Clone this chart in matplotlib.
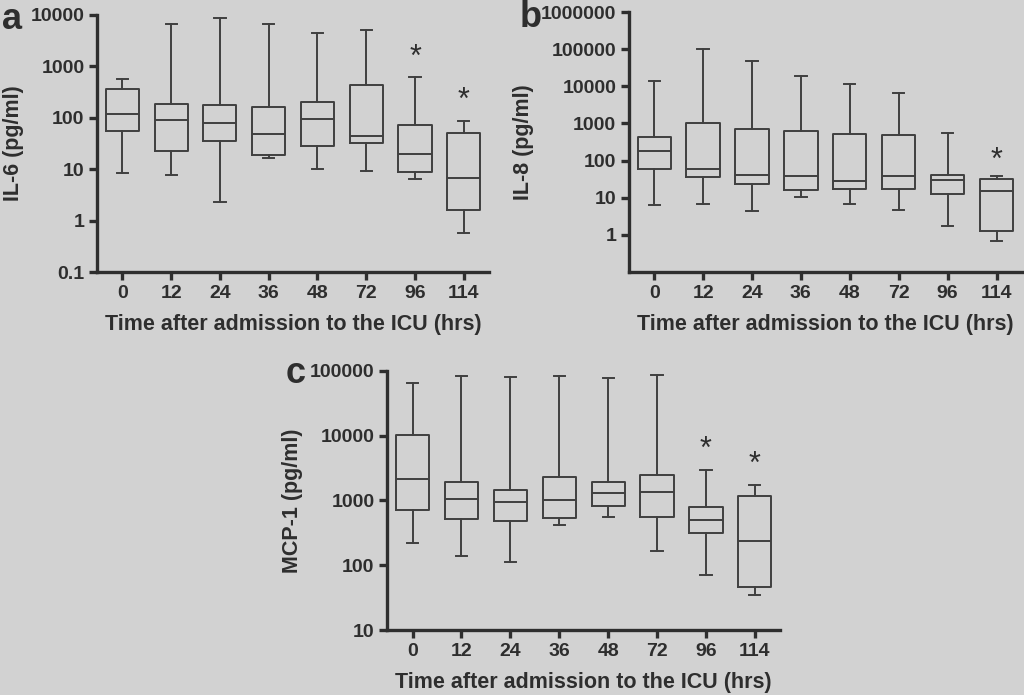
import numpy as np
import matplotlib
matplotlib.use("Agg")
import matplotlib.pyplot as plt
from matplotlib.ticker import FixedLocator, NullLocator

plt.rcParams['font.family'] = ['Liberation Sans', 'DejaVu Sans']
plt.rcParams['font.weight'] = 'bold'

times = ['0', '12', '24', '36', '48', '72', '96', '114']

# IL-6 (pg/ml)
il6_whislo = [8.4, 7.6, 2.3, 16.4, 9.9, 9.3, 6.5, 0.58]
il6_q1 = [55, 22.4, 35, 18.7, 28.5, 32, 9.0, 1.64]
il6_med = [120, 89, 77.6, 48, 94, 44.6, 19.6, 6.6]
il6_q3 = [367, 187, 177, 164, 202, 433, 72, 51]
il6_whishi = [566, 6680, 8610, 6580, 4460, 5180, 611, 86]
il6_star = {6: 2140, 7: 307}

# IL-8 (pg/ml)
il8_whislo = [6.2, 6.7, 4.3, 10.5, 7.0, 4.6, 1.72, 0.68]
il8_q1 = [59, 37, 23.5, 16.6, 17.6, 16.9, 12.9, 1.29]
il8_med = [185, 58, 42, 38, 27.7, 38, 30, 15]
il8_q3 = [440, 1000, 706, 623, 529, 487, 40, 31.4]
il8_whishi = [14300, 99300, 47300, 19500, 11900, 6810, 562, 38.5]
il8_star = {7: 163}

# MCP-1 (pg/ml)
mcp_whislo = [220, 138, 112, 411, 547, 167, 70.5, 34.3]
mcp_q1 = [710, 521, 480, 540, 828, 560, 317, 45.5]
mcp_med = [2130, 1060, 931, 1010, 1280, 1360, 498, 236]
mcp_q3 = [10200, 1940, 1426, 2260, 1920, 2490, 789, 1153]
mcp_whishi = [64500, 81800, 78900, 81800, 77100, 86700, 2970, 1725]
mcp_star = {6: 8130, 7: 4770}

bg = '#d2d2d2'
ink = '#2e2e2e'
line_c = '#404040'

fig = plt.figure(figsize=(10.24, 6.95), dpi=100, facecolor=bg)


def fmt(t):
    return '%g' % t if t < 1 else '%d' % t


def panel(rect, letter, letter_xy, ylabel, lo, q1, med, q3, hi, stars, ylim, yticks):
    ax = fig.add_axes(rect)
    ax.set_facecolor(bg)
    stats = []
    for i in range(len(times)):
        stats.append(dict(whislo=lo[i], q1=q1[i], med=med[i], q3=q3[i], whishi=hi[i], fliers=[]))
    lp = dict(color=line_c, linewidth=1.4)
    ax.bxp(stats, positions=np.arange(len(times)), widths=0.68, capwidths=0.23,
           showfliers=False, boxprops=lp, whiskerprops=lp, capprops=lp,
           medianprops=lp)
    # significance marks; the asterisk glyph sits high, so nudge it down
    for k, v in stars.items():
        ax.annotate('*', (k, v), xytext=(0, -6), textcoords='offset points',
                    ha='center', va='center', fontsize=22,
                    fontweight='normal', color=ink)
    ax.set_yscale('log')
    ax.set_ylim(*ylim)
    ax.set_xlim(-0.52, 7.52)
    ax.yaxis.set_major_locator(FixedLocator(yticks))
    ax.yaxis.set_minor_locator(NullLocator())
    ax.set_yticklabels([fmt(t) for t in yticks])
    ax.set_xticks(np.arange(len(times)))
    ax.set_xticklabels(times)
    for s in ['top', 'right']:
        ax.spines[s].set_visible(False)
    for s in ['left', 'bottom']:
        ax.spines[s].set_linewidth(2.4)
        ax.spines[s].set_color(ink)
    ax.tick_params(axis='both', length=6, width=2.4, color=ink,
                   labelsize=14, labelcolor=ink, pad=3)
    ax.set_xlabel('Time after admission to the ICU (hrs)', fontsize=15.5,
                  fontweight='bold', color=ink, labelpad=9)
    ax.set_ylabel(ylabel, fontsize=15.5, fontweight='bold', color=ink, labelpad=5)
    fig.text(letter_xy[0], letter_xy[1], letter, fontsize=26, fontweight='bold',
             color=ink, ha='left', va='center')
    return ax


panel([0.0947, 0.6086, 0.383, 0.370], 'a', (0.002, 0.972), 'IL-6 (pg/ml)',
      il6_whislo, il6_q1, il6_med, il6_q3, il6_whishi, il6_star,
      (0.1, 10000), [0.1, 1, 10, 100, 1000, 10000])
panel([0.614, 0.6086, 0.384, 0.374], 'b', (0.507, 0.975), 'IL-8 (pg/ml)',
      il8_whislo, il8_q1, il8_med, il8_q3, il8_whishi, il8_star,
      (0.1, 1000000), [1, 10, 100, 1000, 10000, 100000, 1000000])
panel([0.378, 0.0935, 0.384, 0.373], 'c', (0.279, 0.463), 'MCP-1 (pg/ml)',
      mcp_whislo, mcp_q1, mcp_med, mcp_q3, mcp_whishi, mcp_star,
      (10, 100000), [10, 100, 1000, 10000, 100000])

fig.savefig('out.png', dpi=100, facecolor=bg)
